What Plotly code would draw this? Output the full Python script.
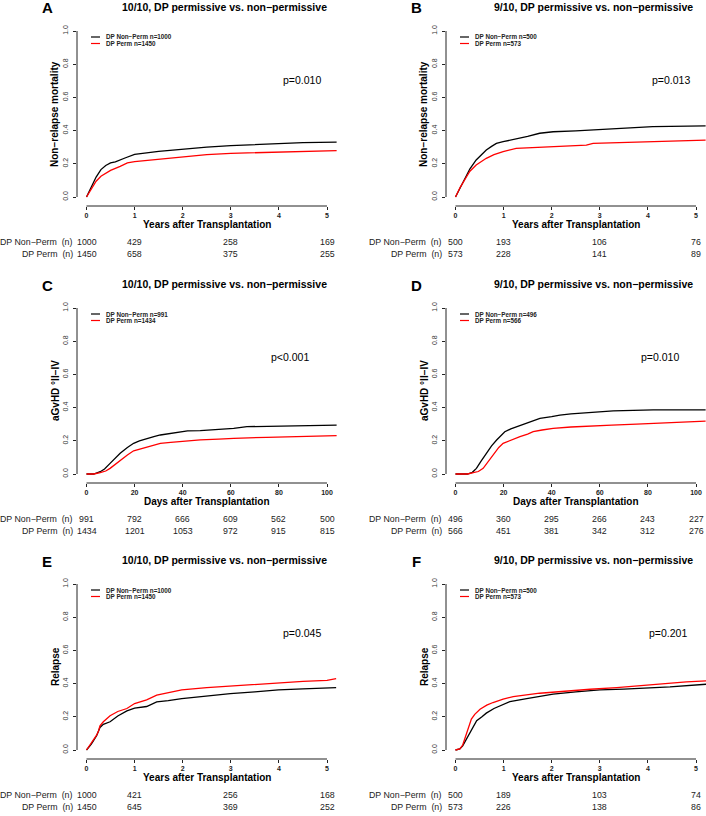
import plotly.graph_objects as go

W, H = 706, 816
FONT = "Liberation Sans, Arial, Helvetica, sans-serif"

# ---------------- data ----------------
panel_letters = ["A", "B", "C", "D", "E", "F"]
panel_titles = ["10/10, DP permissive vs. non−permissive",
                "9/10, DP permissive vs. non−permissive"] * 3
y_titles = ["Non−relapse mortality"] * 2 + ["aGvHD °II−IV"] * 2 + ["Relapse"] * 2
x_titles = (["Years after Transplantation"] * 2 + ["Days after Transplantation"] * 2
            + ["Years after Transplantation"] * 2)
p_values = ["p=0.010", "p=0.013", "p<0.001", "p=0.010", "p=0.045", "p=0.201"]
group_names = ["DP Non−Perm", "DP Perm"]
y_ticks = [0, 0.2, 0.4, 0.6, 0.8, 1.0]
year_ticks = [0, 1, 2, 3, 4, 5]
day_ticks = [0, 20, 40, 60, 80, 100]

# risk tables
A_risk_t = [0, 1, 3, 5]
A_risk_nonperm = [1000, 429, 258, 169]
A_risk_perm = [1450, 658, 375, 255]
B_risk_t = [0, 1, 3, 5]
B_risk_nonperm = [500, 193, 106, 76]
B_risk_perm = [573, 228, 141, 89]
C_risk_t = [0, 20, 40, 60, 80, 100]
C_risk_nonperm = [991, 792, 666, 609, 562, 500]
C_risk_perm = [1434, 1201, 1053, 972, 915, 815]
D_risk_t = [0, 20, 40, 60, 80, 100]
D_risk_nonperm = [496, 360, 295, 266, 243, 227]
D_risk_perm = [566, 451, 381, 342, 312, 276]
E_risk_t = [0, 1, 3, 5]
E_risk_nonperm = [1000, 421, 256, 168]
E_risk_perm = [1450, 645, 369, 252]
F_risk_t = [0, 1, 3, 5]
F_risk_nonperm = [500, 189, 103, 74]
F_risk_perm = [573, 226, 138, 86]

# cumulative incidence curves
A_nonperm_t = [0, 0.1, 0.2, 0.3, 0.4, 0.5, 0.6, 0.8, 1.0, 1.5, 2.0, 2.5, 3.0, 3.5, 4.0, 4.5, 5.2]
A_nonperm_y = [0, 0.06, 0.12, 0.165, 0.19, 0.205, 0.212, 0.235, 0.257, 0.275, 0.289, 0.3, 0.31, 0.316, 0.323, 0.327, 0.33]
A_perm_t = [0, 0.1, 0.2, 0.3, 0.4, 0.5, 0.7, 0.85, 1.0, 1.5, 2.0, 2.5, 3.0, 4.0, 4.5, 5.2]
A_perm_y = [0, 0.05, 0.095, 0.125, 0.145, 0.16, 0.185, 0.205, 0.213, 0.228, 0.243, 0.255, 0.263, 0.271, 0.275, 0.279]

B_nonperm_t = [0, 0.1, 0.23, 0.3, 0.43, 0.55, 0.64, 0.75, 0.85, 0.99, 1.15, 1.33, 1.5, 1.75, 2.03, 2.5, 3.0, 3.4, 4.1, 5.2]
B_nonperm_y = [0, 0.06, 0.133, 0.17, 0.223, 0.255, 0.283, 0.305, 0.323, 0.333, 0.342, 0.353, 0.365, 0.384, 0.393, 0.398, 0.405, 0.413, 0.424, 0.428]
B_perm_t = [0, 0.1, 0.23, 0.3, 0.43, 0.55, 0.64, 0.8, 0.99, 1.26, 1.6, 2.03, 2.72, 2.86, 3.5, 4.1, 4.6, 5.2]
B_perm_y = [0, 0.06, 0.122, 0.155, 0.193, 0.215, 0.233, 0.255, 0.273, 0.293, 0.298, 0.303, 0.313, 0.323, 0.328, 0.333, 0.338, 0.343]

C_nonperm_t = [0, 3, 5.7, 7.5, 9.8, 12, 14, 17, 19.6, 22, 25.1, 28, 30.7, 35, 39, 42, 47.3, 55, 61.2, 66.7, 75, 88.9, 97, 104]
C_nonperm_y = [0, 0, 0.014, 0.03, 0.064, 0.095, 0.125, 0.16, 0.185, 0.2, 0.215, 0.225, 0.235, 0.245, 0.255, 0.26, 0.261, 0.267, 0.275, 0.285, 0.288, 0.291, 0.294, 0.295]
C_perm_t = [0, 3, 5.7, 8, 9.8, 12, 14, 17, 19.6, 22, 25.1, 28, 30.7, 35, 39, 47.3, 55, 61.2, 75, 90, 104]
C_perm_y = [0, 0, 0.008, 0.018, 0.034, 0.06, 0.084, 0.115, 0.14, 0.15, 0.165, 0.175, 0.185, 0.19, 0.195, 0.205, 0.21, 0.215, 0.221, 0.226, 0.231]

D_nonperm_t = [0, 5, 7, 8.7, 10.5, 12.9, 15, 17.1, 20.5, 23, 25.4, 29.5, 32, 35.1, 40, 43.4, 48, 54.5, 60, 65.6, 82.2, 104]
D_nonperm_y = [0, 0, 0.01, 0.034, 0.075, 0.125, 0.17, 0.205, 0.255, 0.272, 0.285, 0.309, 0.32, 0.335, 0.345, 0.355, 0.362, 0.369, 0.372, 0.38, 0.386, 0.386]
D_perm_t = [0, 5, 7.4, 9.5, 11.5, 13.5, 15.7, 18, 19.8, 23, 26.8, 30, 32.3, 36, 40.6, 48, 54.5, 65, 75.3, 90, 104]
D_perm_y = [0, 0, 0.008, 0.015, 0.034, 0.075, 0.114, 0.16, 0.185, 0.205, 0.225, 0.24, 0.255, 0.265, 0.275, 0.283, 0.289, 0.295, 0.301, 0.31, 0.319]

E_nonperm_t = [0, 0.1, 0.21, 0.25, 0.28, 0.35, 0.49, 0.65, 0.84, 1.0, 1.25, 1.46, 1.7, 1.98, 2.5, 2.99, 3.5, 3.99, 4.5, 5.19]
E_nonperm_y = [0, 0.035, 0.086, 0.11, 0.136, 0.155, 0.17, 0.205, 0.236, 0.252, 0.262, 0.29, 0.297, 0.31, 0.325, 0.34, 0.35, 0.362, 0.368, 0.376]
E_perm_t = [0, 0.1, 0.21, 0.25, 0.28, 0.35, 0.49, 0.65, 0.84, 1.0, 1.25, 1.46, 1.7, 1.98, 2.5, 2.99, 3.5, 3.99, 4.5, 5.0, 5.19]
E_perm_y = [0, 0.04, 0.089, 0.115, 0.145, 0.17, 0.206, 0.232, 0.25, 0.28, 0.302, 0.33, 0.345, 0.362, 0.376, 0.386, 0.396, 0.406, 0.413, 0.42, 0.43]

F_nonperm_t = [0, 0.09, 0.15, 0.23, 0.3, 0.37, 0.44, 0.55, 0.64, 0.8, 0.99, 1.13, 1.48, 2.03, 2.5, 3.0, 3.5, 3.97, 4.46, 5.21]
F_nonperm_y = [0, 0.006, 0.025, 0.066, 0.105, 0.146, 0.176, 0.2, 0.222, 0.25, 0.276, 0.292, 0.31, 0.336, 0.35, 0.362, 0.367, 0.372, 0.38, 0.396]
F_perm_t = [0, 0.09, 0.15, 0.23, 0.28, 0.33, 0.4, 0.51, 0.65, 0.78, 0.99, 1.2, 1.75, 2.31, 2.8, 3.35, 4.11, 4.8, 5.21]
F_perm_y = [0, 0.006, 0.03, 0.096, 0.15, 0.186, 0.215, 0.246, 0.27, 0.286, 0.306, 0.322, 0.342, 0.356, 0.366, 0.376, 0.396, 0.41, 0.416]

curves = [
    (A_nonperm_t, A_nonperm_y, A_perm_t, A_perm_y),
    (B_nonperm_t, B_nonperm_y, B_perm_t, B_perm_y),
    (C_nonperm_t, C_nonperm_y, C_perm_t, C_perm_y),
    (D_nonperm_t, D_nonperm_y, D_perm_t, D_perm_y),
    (E_nonperm_t, E_nonperm_y, E_perm_t, E_perm_y),
    (F_nonperm_t, F_nonperm_y, F_perm_t, F_perm_y),
]
risks = [
    (A_risk_t, A_risk_nonperm, A_risk_perm),
    (B_risk_t, B_risk_nonperm, B_risk_perm),
    (C_risk_t, C_risk_nonperm, C_risk_perm),
    (D_risk_t, D_risk_nonperm, D_risk_perm),
    (E_risk_t, E_risk_nonperm, E_risk_perm),
    (F_risk_t, F_risk_nonperm, F_risk_perm),
]
is_days = [False, False, True, True, False, False]
colors = ["black", "#ff0000"]

# ---------------- layout helpers ----------------
def fx(px):
    return px / W

def fy(py):
    return 1 - py / H

COL_DX = [0, 369]
ROW_DY = [0, 277, 553]

fig = go.Figure()
annotations = []
shapes = []
layout = {}

for i in range(6):
    col, row = i % 2, i // 2
    dx, dy = COL_DX[col], ROW_DY[row]
    n = i + 1
    xa = "xaxis" if n == 1 else f"xaxis{n}"
    ya = "yaxis" if n == 1 else f"yaxis{n}"
    xr = "x" if n == 1 else f"x{n}"
    yr = "y" if n == 1 else f"y{n}"

    scale = 2.405 if is_days[i] else 48.1
    ticks = day_ticks if is_days[i] else year_ticks
    x0px = 86.5 + dx
    left_px = 77 + dx
    right_px = min(347 + dx, W)
    xrange = [(left_px - x0px) / scale, (right_px - x0px) / scale]

    y0px = 197 + dy
    yscale = 166.0
    bottom_px = 206 + dy
    top_px = 24 + dy
    yrange = [(y0px - bottom_px) / yscale, (y0px - top_px) / yscale]

    layout[xa] = dict(domain=[fx(left_px), fx(right_px)], range=xrange, anchor=yr,
                      showgrid=False, zeroline=False, showline=False,
                      tickmode="array", tickvals=ticks, ticktext=[str(t) for t in ticks],
                      ticks="outside", ticklen=3, tickwidth=1, tickcolor="#222",
                      ticklabelstandoff=0,
                      tickfont=dict(family=FONT, size=7, color="#222", weight="bold"),
                      fixedrange=True)
    layout[ya] = dict(domain=[fy(bottom_px), fy(top_px)], range=yrange, anchor=xr,
                      showgrid=False, zeroline=False, showline=False,
                      tickmode="array", tickvals=y_ticks,
                      ticktext=[f"{v:.1f}" for v in y_ticks],
                      ticks="outside", ticklen=3, tickwidth=1, tickcolor="#222",
                      tickangle=-90, ticklabelstandoff=2,
                      tickfont=dict(family=FONT, size=7, color="#333"),
                      fixedrange=True)

    # axis lines spanning first to last tick (R style)
    shapes.append(dict(type="line", xref=xr, yref=f"{yr} domain",
                       x0=ticks[0], x1=ticks[-1], y0=0, y1=0,
                       line=dict(color="#222", width=1)))
    shapes.append(dict(type="line", xref=f"{xr} domain", yref=yr,
                       x0=0, x1=0, y0=0, y1=1,
                       line=dict(color="#222", width=1)))

    # curves
    t1, y1, t2, y2 = curves[i]
    fig.add_trace(go.Scatter(x=t1, y=y1, mode="lines", xaxis=xr, yaxis=yr,
                             line=dict(color=colors[0], width=1.3), showlegend=False,
                             name=group_names[0]))
    fig.add_trace(go.Scatter(x=t2, y=y2, mode="lines", xaxis=xr, yaxis=yr,
                             line=dict(color=colors[1], width=1.3), showlegend=False,
                             name=group_names[1]))

    # panel letter
    annotations.append(dict(text=f"<b>{panel_letters[i]}</b>", x=fx(47 + dx), y=fy(8 + dy),
                            xref="paper", yref="paper", showarrow=False,
                            xanchor="center", yanchor="middle",
                            font=dict(family=FONT, size=15, color="black")))
    # title
    annotations.append(dict(text=f"<b>{panel_titles[i]}</b>", x=fx(224 + dx), y=fy(7 + dy),
                            xref="paper", yref="paper", showarrow=False,
                            xanchor="center", yanchor="middle",
                            font=dict(family=FONT, size=10.5, color="black")))
    # axis titles
    annotations.append(dict(text=f"<b>{y_titles[i]}</b>", x=fx(55 + dx), y=fy(114 + dy),
                            xref="paper", yref="paper", showarrow=False, textangle=-90,
                            xanchor="center", yanchor="middle",
                            font=dict(family=FONT, size=10, color="black")))
    annotations.append(dict(text=f"<b>{x_titles[i]}</b>", x=fx(207 + dx), y=fy(224 + dy),
                            xref="paper", yref="paper", showarrow=False,
                            xanchor="center", yanchor="middle",
                            font=dict(family=FONT, size=10, color="black")))
    # p-value
    p_x = [302, 302, 290, 291, 302, 299][i]
    annotations.append(dict(text=p_values[i], x=fx(p_x + dx), y=fy(80 + dy),
                            xref="paper", yref="paper", showarrow=False,
                            xanchor="center", yanchor="middle",
                            font=dict(family=FONT, size=10.5, color="black")))

    # legend
    rt, rn, rp = risks[i]
    for k, (gname, nval) in enumerate([(group_names[0], rn[0]), (group_names[1], rp[0])]):
        ly = 37 + dy + k * 6.5
        shapes.append(dict(type="line", xref="paper", yref="paper",
                           x0=fx(91 + dx), x1=fx(100 + dx), y0=fy(ly), y1=fy(ly),
                           line=dict(color=colors[k], width=1.2)))
        annotations.append(dict(text=f"<b>{gname} n={nval}</b>", x=fx(104 + dx), y=fy(ly),
                                xref="paper", yref="paper", showarrow=False,
                                xanchor="left", yanchor="middle",
                                font=dict(family=FONT, size=6.3, color="#222")))

    # risk table
    row_y = [242 + dy, 253.5 + dy]
    for k, (gname, vals) in enumerate([(group_names[0], rn), (group_names[1], rp)]):
        annotations.append(dict(text=f"{gname}  (n)", x=fx(75 + dx), y=fy(row_y[k]),
                                xref="paper", yref="paper", showarrow=False,
                                xanchor="right", yanchor="middle",
                                font=dict(family=FONT, size=8.8, color="#222")))
        for t, v in zip(rt, vals):
            annotations.append(dict(text=str(v), x=t, y=fy(row_y[k]),
                                    xref=xr, yref="paper", showarrow=False,
                                    xanchor="center", yanchor="middle",
                                    font=dict(family=FONT, size=8.8, color="#222")))

fig.update_layout(width=W, height=H, margin=dict(l=0, r=0, t=0, b=0),
                  paper_bgcolor="white", plot_bgcolor="white",
                  showlegend=False, annotations=annotations, shapes=shapes,
                  font=dict(family=FONT), **layout)

fig.write_html("out.html", config={"displayModeBar": False})

# remove the default page margin so the figure sits at the window's top-left corner
with open("out.html", "r", encoding="utf-8") as f:
    html = f.read()
html = html.replace("<head>", "<head><style>html,body{margin:0;padding:0;overflow:hidden;}</style>", 1)
with open("out.html", "w", encoding="utf-8") as f:
    f.write(html)
